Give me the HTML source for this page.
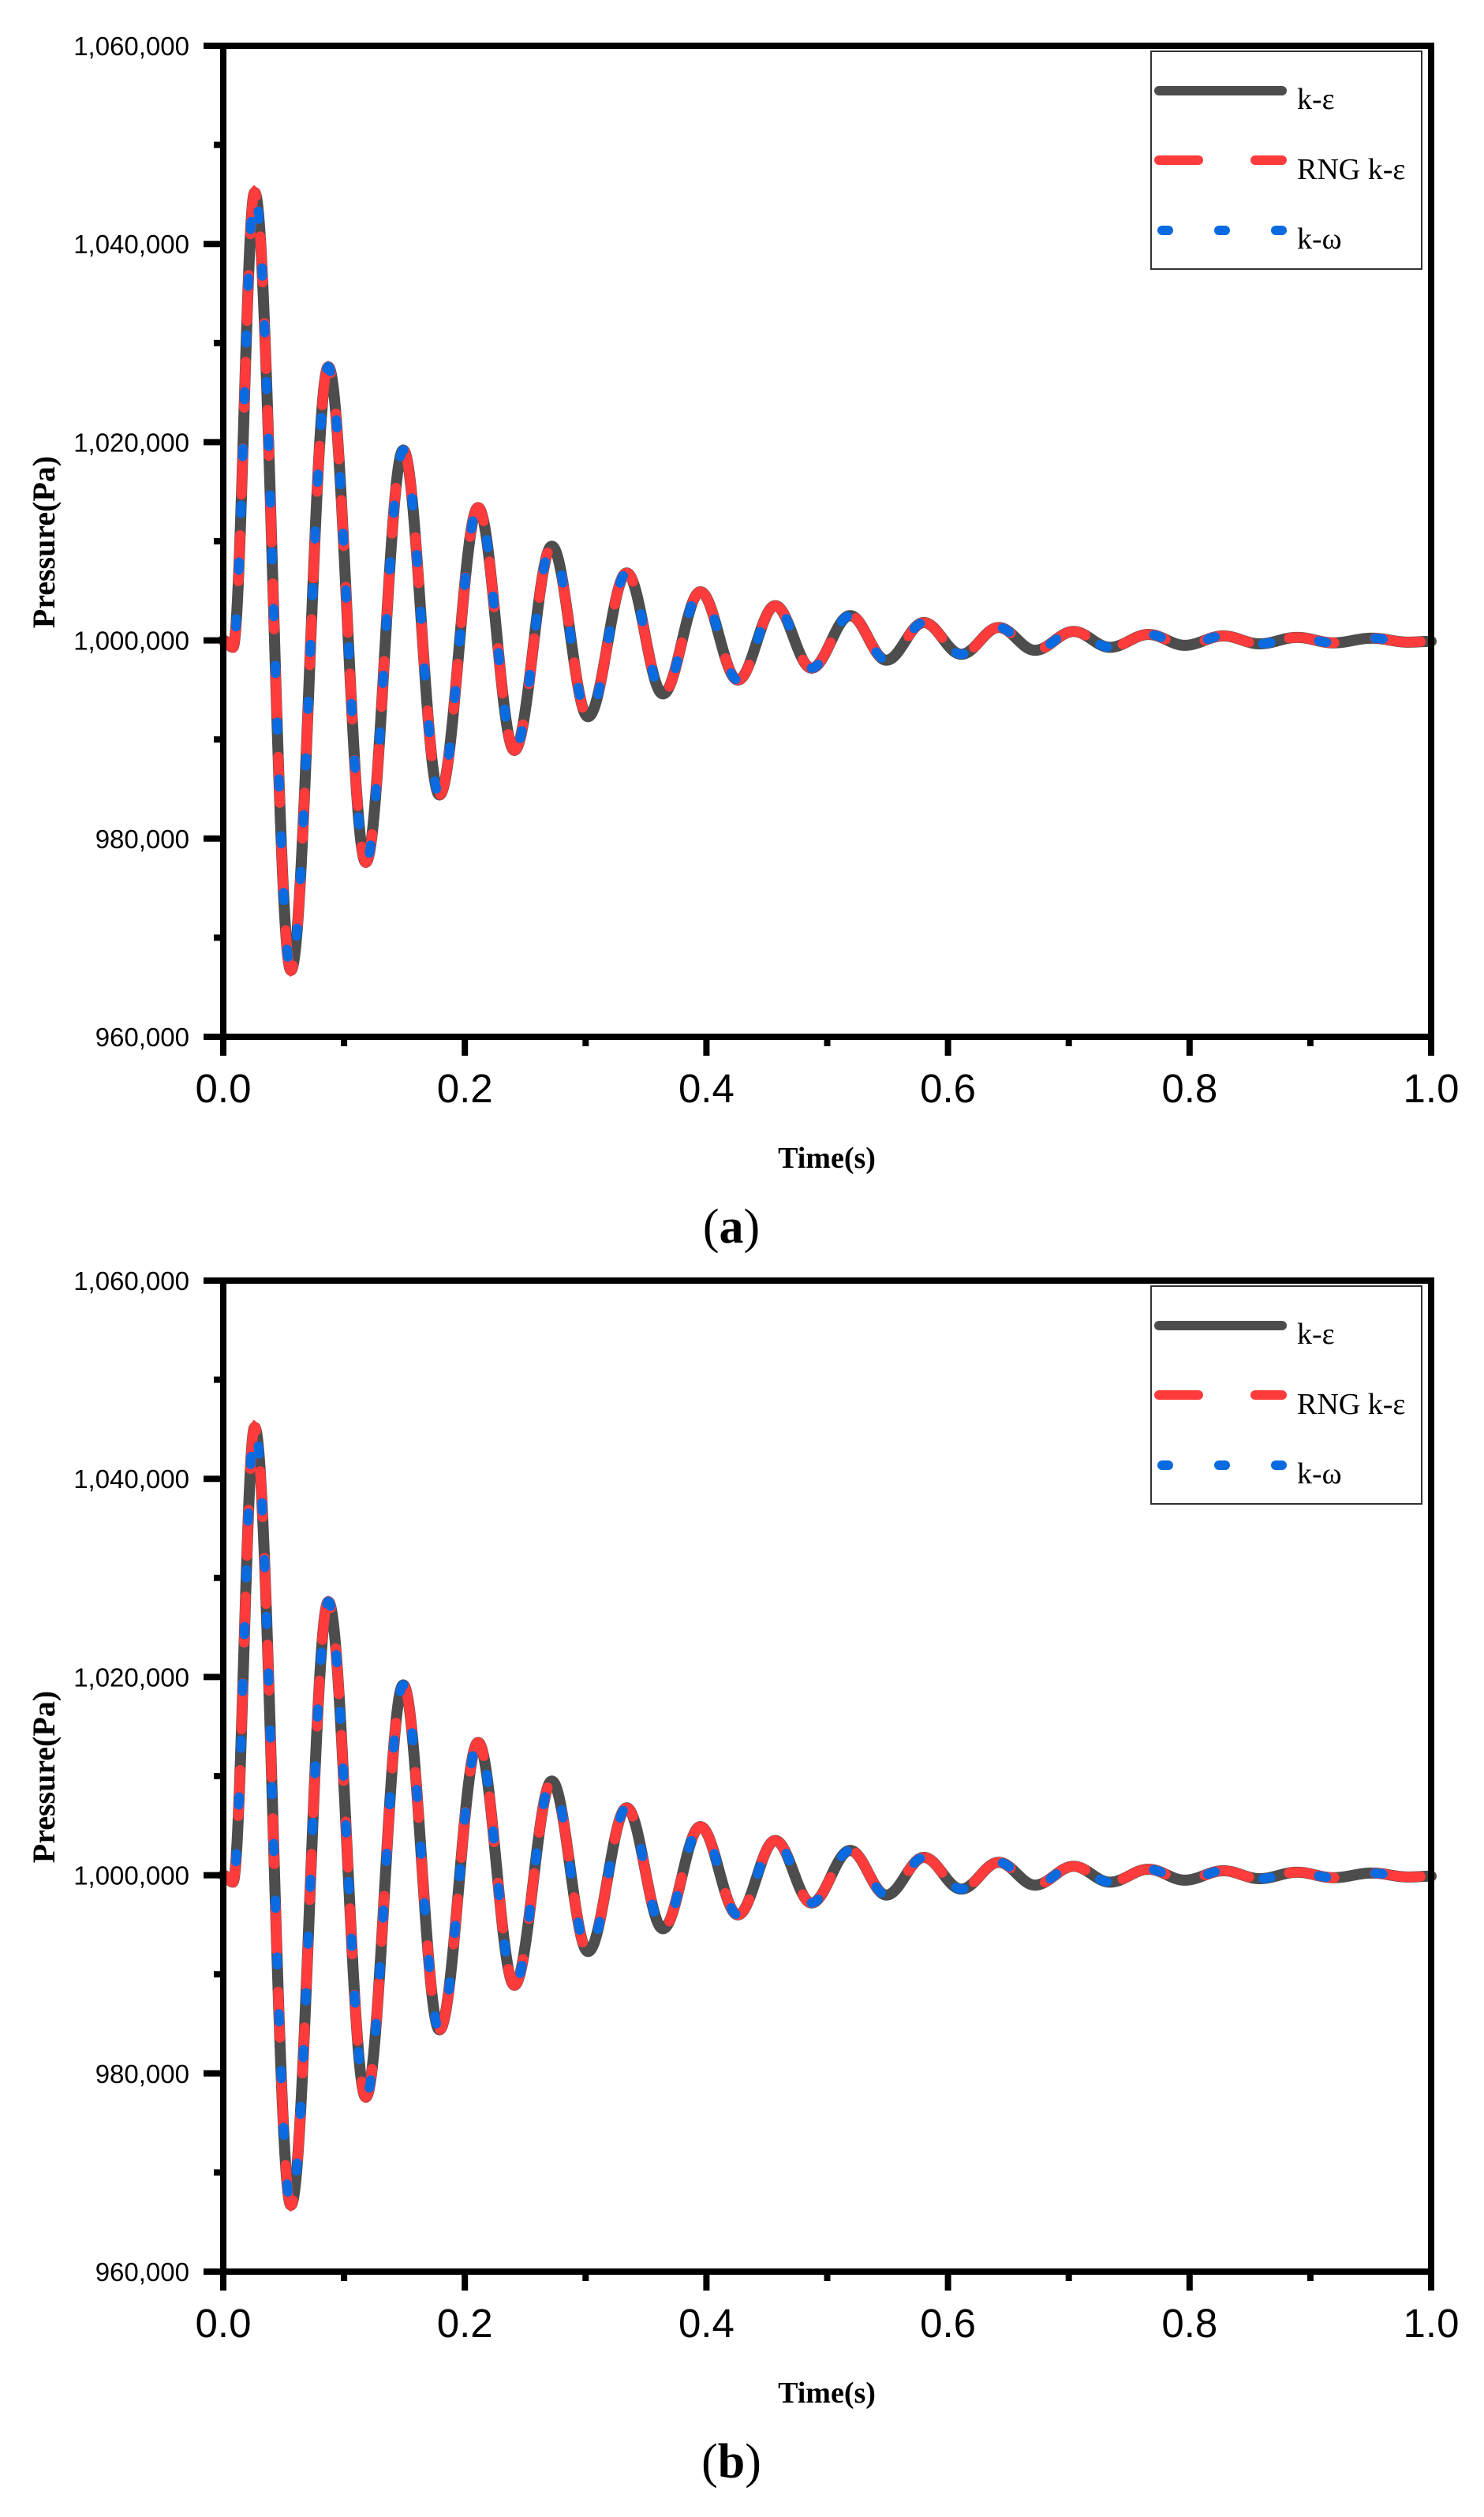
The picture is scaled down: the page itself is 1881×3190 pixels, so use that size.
<!DOCTYPE html>
<html><head><meta charset="utf-8">
<style>
html,body{margin:0;padding:0;background:#fff;}
svg{display:block;}
</style></head>
<body>
<svg id="s" xmlns="http://www.w3.org/2000/svg" width="1881" height="3190" viewBox="0 0 1881 3190">
</svg>
<script>
const NS="http://www.w3.org/2000/svg";
const svg=document.getElementById('s');
function el(tag,attrs,text){const e=document.createElementNS(NS,tag);for(const k in attrs)e.setAttribute(k,attrs[k]);if(text!==undefined)e.textContent=text;svg.appendChild(e);return e;}
const ext=[[0,1e6],[0.008,999300],[0.026,1045200],[0.056,966700],[0.087,1027600],[0.118,977600],[0.149,1019200],[0.179,984400],[0.211,1013400],[0.241,988900],[0.272,1009500],[0.302,992300],[0.334,1006800],[0.364,994600],[0.395,1004900],[0.426,996000],[0.457,1003500],[0.487,997200],[0.519,1002500],[0.549,998000],[0.580,1001800],[0.611,998600],[0.642,1001300],[0.672,999000],[0.704,1000900],[0.734,999300],[0.766,1000600],[0.796,999500],[0.828,1000450],[0.858,999650],[0.889,1000300],[0.919,999750],[0.951,1000220],[0.981,999820],[1.0,999900]];
function val(t){for(let i=0;i<ext.length-1;i++){const a=ext[i],b=ext[i+1];if(t>=a[0]&&t<=b[0]){const f=(t-a[0])/(b[0]-a[0]);const w=(1-Math.cos(Math.PI*f))/2;return a[1]+(b[1]-a[1])*w;}}return ext[ext.length-1][1];}
function panel(oy,label){
  const x0=283,x1=1814,yt=58+oy,yb=1314+oy;
  const X=t=>x0+t*(x1-x0), Y=p=>yt+(1060000-p)/100000*(yb-yt);
  let d="";for(let i=0;i<=2000;i++){const t=i/2000;d+=(i?"L":"M")+X(t).toFixed(2)+","+Y(val(t)).toFixed(2);}
  el('path',{d:d,fill:'none',stroke:'#4d4d4d','stroke-width':14,'stroke-linejoin':'round','stroke-linecap':'round'});
  el('path',{d:d,fill:'none',stroke:'#ff3b3b','stroke-width':13,'stroke-dasharray':'58 52','stroke-dashoffset':'10','stroke-linecap':'round'});
  el('path',{d:d,fill:'none',stroke:'#0a6ae0','stroke-width':12,'stroke-dasharray':'10 62','stroke-dashoffset':'30','stroke-linecap':'round'});
  // axes
  el('rect',{x:x0,y:yt,width:x1-x0,height:yb-yt,fill:'none',stroke:'#000','stroke-width':8});
  // y ticks
  const labs=['1,060,000','1,040,000','1,020,000','1,000,000','980,000','960,000'];
  for(let i=0;i<=5;i++){const y=yt+i*(yb-yt)/5;
    el('line',{x1:x0-25,y1:y,x2:x0,y2:y,stroke:'#000','stroke-width':8});
    el('text',{x:240,y:y+12,'text-anchor':'end','font-family':'Liberation Sans, Arial, sans-serif','font-size':33},labs[i]);
    if(i<5){const ym=y+(yb-yt)/10;el('line',{x1:x0-12,y1:ym,x2:x0,y2:ym,stroke:'#000','stroke-width':8});}
  }
  for(let i=0;i<=5;i++){const x=x0+i*(x1-x0)/5;
    el('line',{x1:x,y1:yb,x2:x,y2:yb+24,stroke:'#000','stroke-width':8});
    el('text',{x:x,y:yb+83,'text-anchor':'middle','font-family':'Liberation Sans, Arial, sans-serif','font-size':51},(i/5).toFixed(1));
    if(i<5){const xm=x+(x1-x0)/10;el('line',{x1:xm,y1:yb,x2:xm,y2:yb+12,stroke:'#000','stroke-width':8});}
  }
  // axis titles
  el('text',{x:1048,y:1480+oy,'text-anchor':'middle','font-family':'Liberation Serif, Times New Roman, serif','font-size':38,'font-weight':'bold'},'Time(s)');
  el('text',{x:0,y:0,transform:`translate(69,${687+oy}) rotate(-90)`,'text-anchor':'middle','font-family':'Liberation Serif, Times New Roman, serif','font-size':40,'font-weight':'bold'},'Pressure(Pa)');
  const c=el('text',{x:927,y:1575+oy,'text-anchor':'middle','font-family':'Liberation Serif, Times New Roman, serif','font-size':62});
  c.innerHTML='(<tspan font-weight="bold">'+label+'</tspan>)';
  // legend
  el('rect',{x:1459,y:65+oy,width:343,height:276,fill:'#fff',stroke:'#333','stroke-width':2});
  el('line',{x1:1469,y1:115+oy,x2:1625,y2:115+oy,stroke:'#4d4d4d','stroke-width':12,'stroke-linecap':'round'});
  el('line',{x1:1469,y1:203+oy,x2:1519,y2:203+oy,stroke:'#ff3b3b','stroke-width':12,'stroke-linecap':'round'});
  el('line',{x1:1591,y1:203+oy,x2:1625,y2:203+oy,stroke:'#ff3b3b','stroke-width':12,'stroke-linecap':'round'});
  [1473,1545,1617].forEach(x=>el('line',{x1:x,y1:292+oy,x2:x+8,y2:292+oy,stroke:'#0a6ae0','stroke-width':12,'stroke-linecap':'round'}));
  const lf={'font-family':'Liberation Serif, Times New Roman, serif','font-size':38};
  el('text',Object.assign({x:1644,y:138+oy},lf),'k-ε');
  el('text',Object.assign({x:1644,y:227+oy},lf),'RNG k-ε');
  el('text',Object.assign({x:1644,y:315+oy},lf),'k-ω');
}
panel(0,'a');
panel(1565,'b');
</script>
</body></html>
